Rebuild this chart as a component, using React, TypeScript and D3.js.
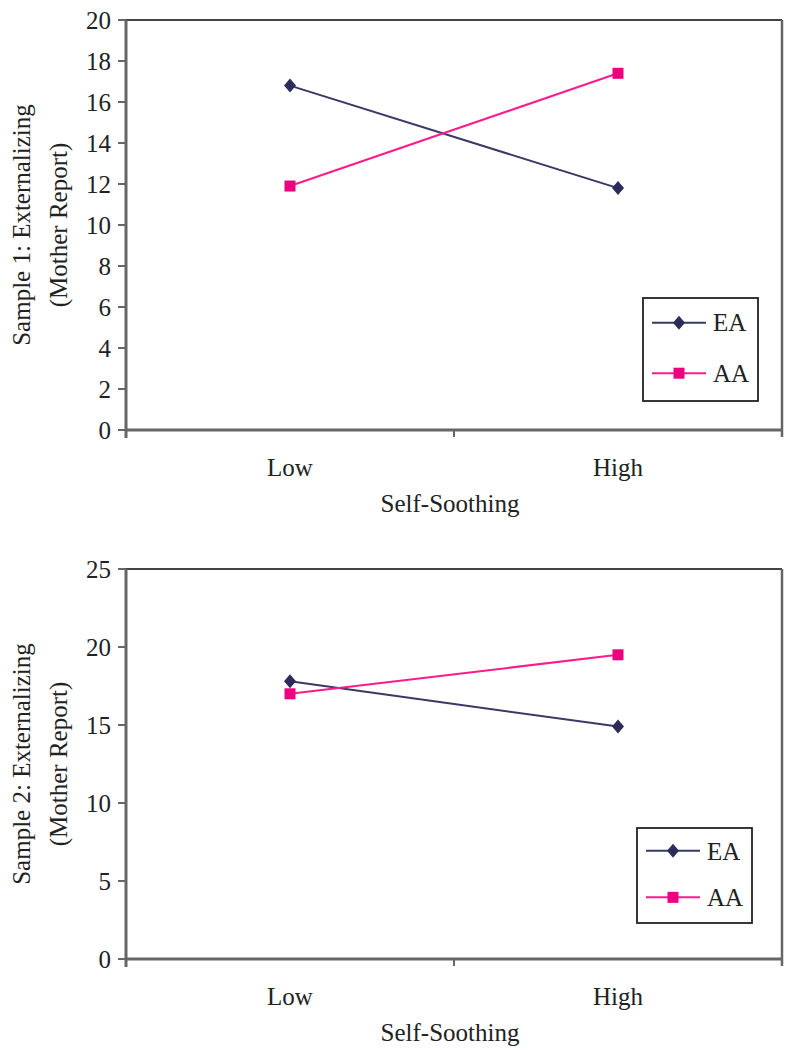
import React from "react";
import * as d3 from "d3";

const categories = ["Low", "High"];
const seriesNames = ["EA", "AA"];
const sample1EA = [16.8, 11.8];
const sample1AA = [11.9, 17.4];
const sample2EA = [17.8, 14.9];
const sample2AA = [17.0, 19.5];
const sample1Ticks = [0, 2, 4, 6, 8, 10, 12, 14, 16, 18, 20];
const sample2Ticks = [0, 5, 10, 15, 20, 25];
const xTitle = "Self-Soothing";
const yTitles1 = ["Sample 1: Externalizing", "(Mother Report)"];
const yTitles2 = ["Sample 2: Externalizing", "(Mother Report)"];

const EA_LINE = "#3a3966";
const EA_MARK = "#2c2b5a";
const AA_LINE = "#ff1a8c";
const AA_MARK = "#ec0080";
const FONT = "'Liberation Serif', 'Times New Roman', serif";
const TEXT = "#222";

type PanelProps = {
  top: number;
  bottom: number;
  ticks: number[];
  ea: number[];
  aa: number[];
  titles: string[];
  legend: { x: number; y: number; w: number; h: number };
};

function Diamond({ x, y }: { x: number; y: number }) {
  const s = 7;
  return (
    <path
      d={`M${x},${y - s}L${x + s - 1},${y}L${x},${y + s}L${x - s + 1},${y}Z`}
      fill={EA_MARK}
    />
  );
}

function Square({ x, y }: { x: number; y: number }) {
  const s = 5.5;
  return <rect x={x - s} y={y - s} width={2 * s} height={2 * s} fill={AA_MARK} />;
}

function Panel({ top, bottom, ticks, ea, aa, titles, legend }: PanelProps) {
  const left = 126;
  const right = 782;
  const x = d3.scaleBand<string>().domain(categories).range([left, right]).padding(0);
  const y = d3
    .scaleLinear()
    .domain([0, d3.max(ticks) as number])
    .range([bottom, top]);
  const cx = (c: string) => (x(c) as number) + x.bandwidth() / 2;
  const line = d3
    .line<number>()
    .x((_, i) => cx(categories[i]))
    .y((v) => y(v));
  const xBounds = [left, ...categories.map((c) => (x(c) as number) + x.bandwidth())];
  const midY = (top + bottom) / 2;
  const rows = [legend.y + legend.h * 0.24, legend.y + legend.h * 0.73];
  return (
    <g fontFamily={FONT} fill={TEXT}>
      {/* frame top & right */}
      <line x1={left} x2={right} y1={top} y2={top} stroke="#444" strokeWidth={2} />
      <line x1={right} x2={right} y1={top} y2={bottom + 7} stroke="#666" strokeWidth={2.5} />
      {/* y axis */}
      <line x1={left} x2={left} y1={top} y2={bottom + 8} stroke="#666" strokeWidth={3} />
      {ticks.map((t) => (
        <g key={t}>
          <line x1={left - 8} x2={left} y1={y(t)} y2={y(t)} stroke="#666" strokeWidth={2} />
          <text x={left - 15} y={y(t)} dy="0.34em" textAnchor="end" fontSize={25}>
            {t}
          </text>
        </g>
      ))}
      {/* x axis */}
      <line x1={left} x2={right} y1={bottom} y2={bottom} stroke="#666" strokeWidth={3} />
      {xBounds.map((b, i) => (
        <line key={i} x1={b} x2={b} y1={bottom} y2={bottom + 7} stroke="#666" strokeWidth={2} />
      ))}
      {categories.map((c) => (
        <text key={c} x={cx(c)} y={bottom + 46} textAnchor="middle" fontSize={25}>
          {c}
        </text>
      ))}
      <text x={(left + right) / 2 - 4} y={bottom + 82} textAnchor="middle" fontSize={25}>
        {xTitle}
      </text>
      {/* y title */}
      <text
        transform={`translate(30,${midY}) rotate(-90)`}
        textAnchor="middle"
        fontSize={25}
      >
        {titles[0]}
      </text>
      <text
        transform={`translate(67,${midY}) rotate(-90)`}
        textAnchor="middle"
        fontSize={25}
      >
        {titles[1]}
      </text>
      {/* lines */}
      <path d={line(ea) as string} fill="none" stroke={EA_LINE} strokeWidth={2} />
      <path d={line(aa) as string} fill="none" stroke={AA_LINE} strokeWidth={2} />
      {ea.map((v, i) => (
        <Diamond key={"e" + i} x={cx(categories[i])} y={y(v)} />
      ))}
      {aa.map((v, i) => (
        <Square key={"a" + i} x={cx(categories[i])} y={y(v)} />
      ))}
      {/* legend */}
      <rect
        x={legend.x}
        y={legend.y}
        width={legend.w}
        height={legend.h}
        fill="white"
        stroke="#222"
        strokeWidth={1.8}
      />
      {seriesNames.map((n, i) => {
        const ly = rows[i];
        const x0 = legend.x + 9;
        const x1 = legend.x + 63;
        const mx = (x0 + x1) / 2;
        return (
          <g key={n}>
            <line
              x1={x0}
              x2={x1}
              y1={ly}
              y2={ly}
              stroke={i === 0 ? EA_LINE : AA_LINE}
              strokeWidth={2}
            />
            {i === 0 ? <Diamond x={mx} y={ly} /> : <Square x={mx} y={ly} />}
            <text x={legend.x + 70} y={ly} dy="0.35em" fontSize={25}>
              {n}
            </text>
          </g>
        );
      })}
    </g>
  );
}

export default function App() {
  return (
    <div style={{ position: "absolute", left: 0, top: 0 }}>
      <svg width={789} height={1050} style={{ display: "block", background: "white" }}>
        <Panel
          top={20}
          bottom={430}
          ticks={sample1Ticks}
          ea={sample1EA}
          aa={sample1AA}
          titles={yTitles1}
          legend={{ x: 643, y: 298, w: 115, h: 103 }}
        />
        <Panel
          top={569}
          bottom={959}
          ticks={sample2Ticks}
          ea={sample2EA}
          aa={sample2AA}
          titles={yTitles2}
          legend={{ x: 637, y: 828, w: 115, h: 95 }}
        />
      </svg>
    </div>
  );
}
